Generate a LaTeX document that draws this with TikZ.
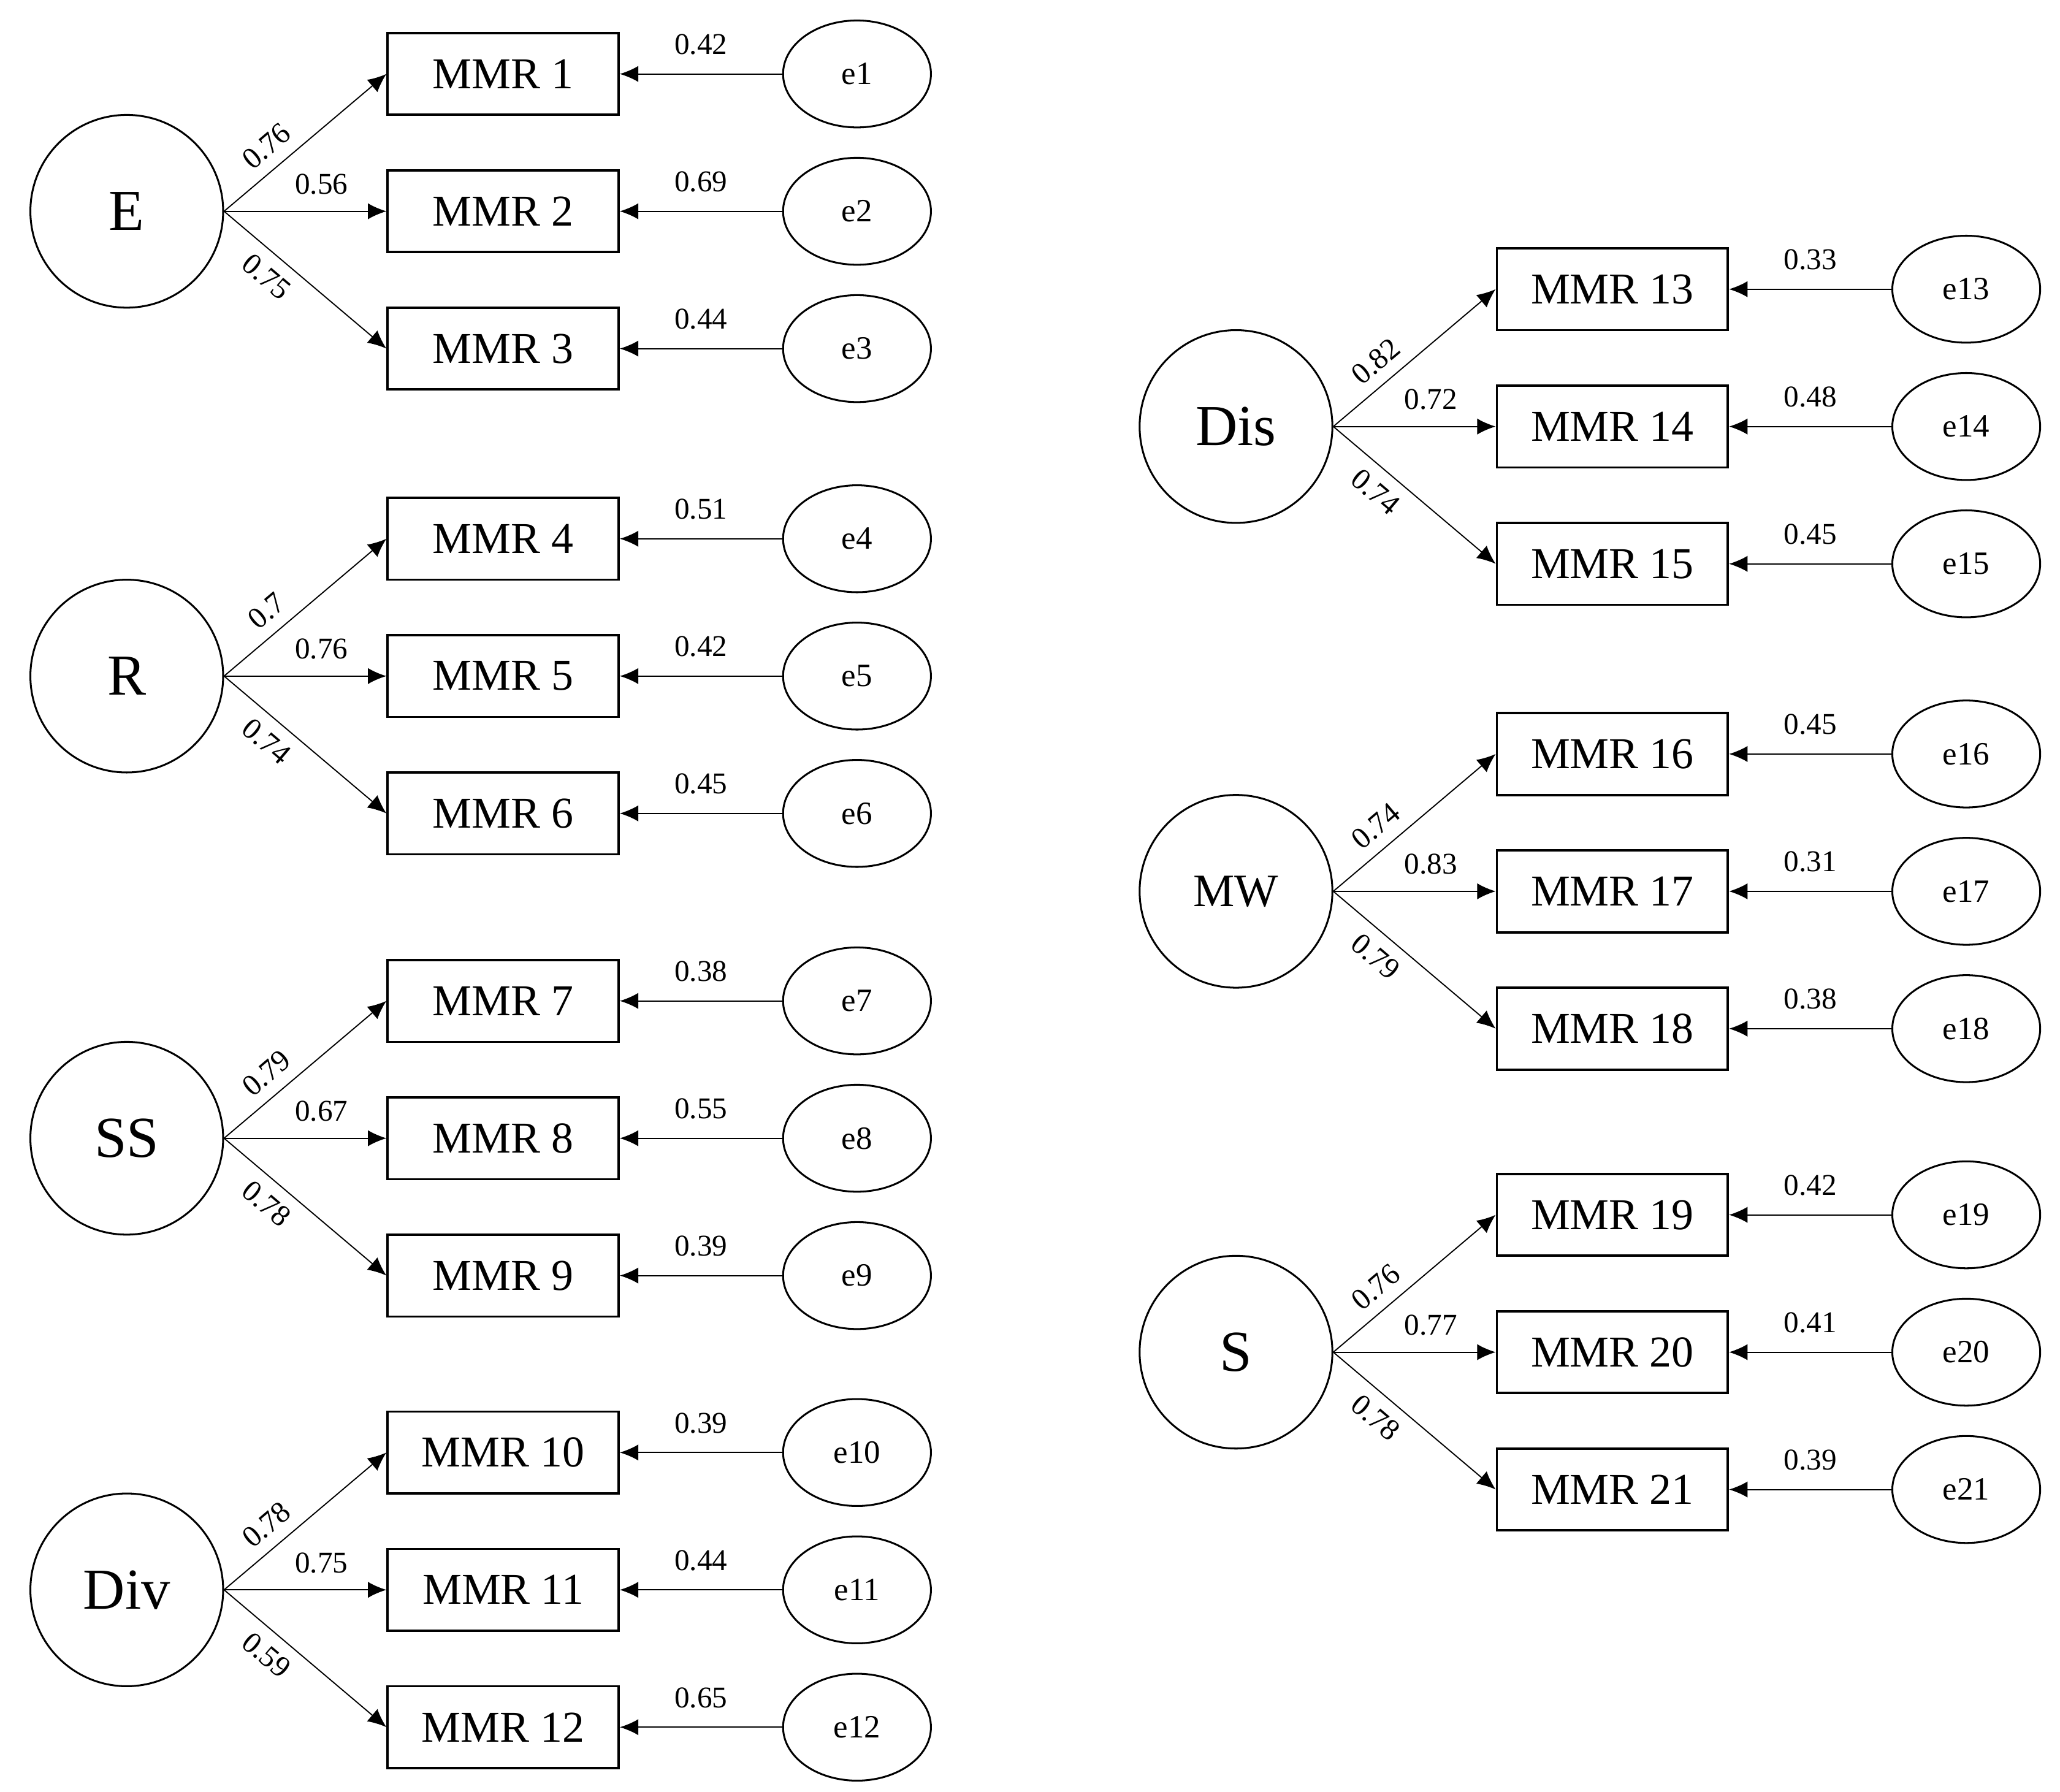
\documentclass[tikz,border=0pt]{standalone}
\usepackage{fontspec}
\setmainfont{Liberation Serif}
\usetikzlibrary{arrows.meta,shapes.geometric}
\begin{document}
\begin{tikzpicture}[x=0.02cm,y=-0.02cm,
  lat/.style={circle,draw,line width=0.8pt,minimum size=2.92cm,inner sep=0pt,font=\fontsize{25}{28}\selectfont},
  obs/.style={rectangle,draw,line width=1pt,minimum width=3.5cm,minimum height=1.24cm,inner sep=0pt,font=\fontsize{19}{22}\selectfont},
  err/.style={ellipse,draw,line width=0.8pt,minimum width=2.24cm,minimum height=1.62cm,inner sep=0pt,font=\fontsize{14}{16}\selectfont},
  arr/.style={-{Latex[length=8pt,width=7pt]},line width=0.5pt},
  lab/.style={font=\fontsize{13}{15}\selectfont,inner sep=2pt}]
\useasboundingbox (0,0) rectangle (1560,1357);
\foreach \lx/\ly/\id/\txt/\a/\b/\c/\la/\lb/\lc/\ea/\eb/\ec in {
  96/160/E/E/1/2/3/0.76/0.56/0.75/0.42/0.69/0.44,
  96/512/R/R/4/5/6/0.7/0.76/0.74/0.51/0.42/0.45,
  96/862/SS/SS/7/8/9/0.79/0.67/0.78/0.38/0.55/0.39,
  96/1204/Div/Div/10/11/12/0.78/0.75/0.59/0.39/0.44/0.65,
  936/323/Dis/Dis/13/14/15/0.82/0.72/0.74/0.33/0.48/0.45,
  936/675/MW/{\fontsize{20}{24}\selectfont MW}/16/17/18/0.74/0.83/0.79/0.45/0.31/0.38,
  936/1024/S/S/19/20/21/0.76/0.77/0.78/0.42/0.41/0.39}{
  \node[lat] (L\id) at (\lx,\ly) {\txt};
  \node[obs] (m\a) at (\lx+285,\ly-104) {MMR \a};
  \node[obs] (m\b) at (\lx+285,\ly) {MMR \b};
  \node[obs] (m\c) at (\lx+285,\ly+104) {MMR \c};
  \node[err] (e\a) at (\lx+553,\ly-104) {e\a};
  \node[err] (e\b) at (\lx+553,\ly) {e\b};
  \node[err] (e\c) at (\lx+553,\ly+104) {e\c};
  \draw[arr] (L\id.east) -- node[lab,pos=0.35,sloped,above,yshift=3pt]{\la} (m\a.west);
  \draw[arr] (L\id.east) -- node[lab,pos=0.6,above,yshift=5pt]{\lb} (m\b.west);
  \draw[arr] (L\id.east) -- node[lab,pos=0.35,sloped,below,yshift=-3pt]{\lc} (m\c.west);
  \draw[arr] (e\a.west) -- node[lab,midway,above,yshift=6pt]{\ea} (m\a.east);
  \draw[arr] (e\b.west) -- node[lab,midway,above,yshift=6pt]{\eb} (m\b.east);
  \draw[arr] (e\c.west) -- node[lab,midway,above,yshift=6pt]{\ec} (m\c.east);
}
\end{tikzpicture}
\end{document}
